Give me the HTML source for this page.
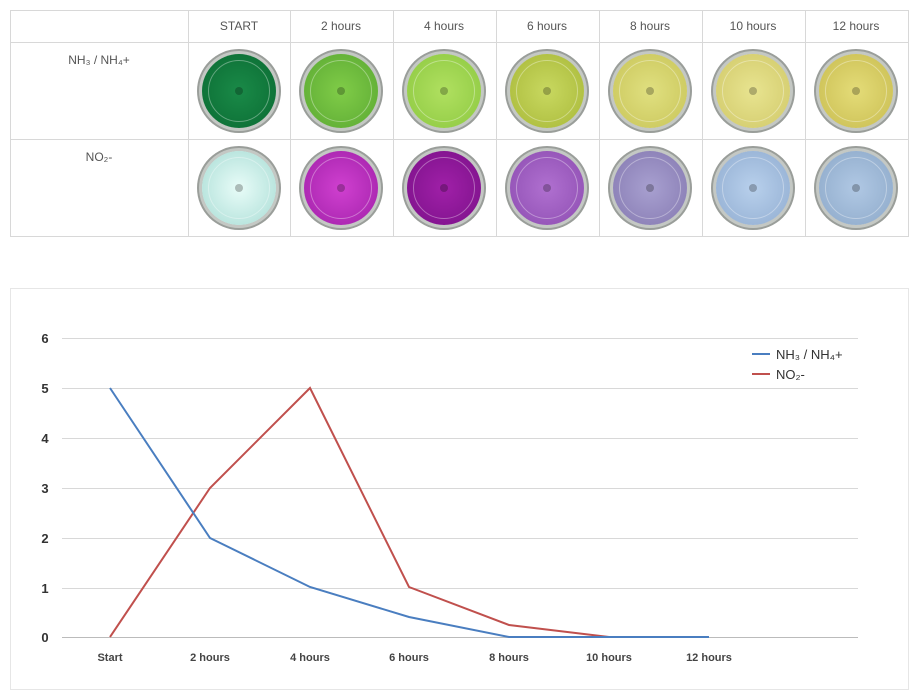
<!DOCTYPE html>
<html><head><style>
body{margin:0;width:922px;height:670px;background:#fff;font-family:"Liberation Sans","Noto Sans CJK KR",sans-serif;overflow:hidden;position:relative}
.v{position:absolute;top:10px;height:226px;width:1px;background:#d8d8d8}
.h{position:absolute;left:10px;width:899px;height:1px;background:#d8d8d8}
.t{position:absolute;font-size:12px;color:#555;text-align:center;width:102px;top:19px}
.lab{position:absolute;left:10px;width:178px;text-align:center;font-size:12px;color:#555}
.d{position:absolute;width:74px;height:74px;border-radius:50%;box-shadow:0 0 0 3px #c4c8c4,0 0 0 5px #9a9e9a;}
.d:after{content:"";position:absolute;left:33px;top:33px;width:8px;height:8px;border-radius:50%;background:rgba(0,0,0,.25)}
.d:before{content:"";position:absolute;left:6px;top:6px;right:6px;bottom:6px;border-radius:50%;border:1px solid rgba(255,255,255,.35)}
.box{position:absolute;left:10px;top:288px;width:897px;height:400px;border:1px solid #e6e6e6}
</style></head><body>
<div class="v" style="left:10px"></div><div class="v" style="left:188px"></div><div class="v" style="left:290px"></div><div class="v" style="left:393px"></div><div class="v" style="left:496px"></div><div class="v" style="left:599px"></div><div class="v" style="left:702px"></div><div class="v" style="left:805px"></div><div class="v" style="left:908px"></div>
<div class="h" style="top:10px"></div><div class="h" style="top:42px"></div><div class="h" style="top:139px"></div><div class="h" style="top:236px"></div>
<div class="t" style="left:188px">START</div><div class="t" style="left:290px">2 hours</div><div class="t" style="left:393px">4 hours</div><div class="t" style="left:496px">6 hours</div><div class="t" style="left:599px">8 hours</div><div class="t" style="left:702px">10 hours</div><div class="t" style="left:805px">12 hours</div>
<div class="lab" style="top:53px">NH₃ / NH₄+</div>
<div class="lab" style="top:150px">NO₂-</div>
<div class="d" style="left:202px;top:54px;background:radial-gradient(#1a8a48,#0a6a32)"></div>
<div class="d" style="left:304px;top:54px;background:radial-gradient(#80cc48,#5aa832)"></div>
<div class="d" style="left:407px;top:54px;background:radial-gradient(#b0e060,#8cc840)"></div>
<div class="d" style="left:510px;top:54px;background:radial-gradient(#c8d860,#a8b838)"></div>
<div class="d" style="left:613px;top:54px;background:radial-gradient(#e0e080,#c8c458)"></div>
<div class="d" style="left:716px;top:54px;background:radial-gradient(#e8e490,#d0c868)"></div>
<div class="d" style="left:819px;top:54px;background:radial-gradient(#e4dc78,#c8bc50)"></div>
<div class="d" style="left:202px;top:151px;background:radial-gradient(#e8fcf8,#a8dcd4)"></div>
<div class="d" style="left:304px;top:151px;background:radial-gradient(#d040d0,#a020a8)"></div>
<div class="d" style="left:407px;top:151px;background:radial-gradient(#a020a8,#7a1088)"></div>
<div class="d" style="left:510px;top:151px;background:radial-gradient(#b070d0,#8c4cb0)"></div>
<div class="d" style="left:613px;top:151px;background:radial-gradient(#a8a0d0,#8478b0)"></div>
<div class="d" style="left:716px;top:151px;background:radial-gradient(#b8d0ec,#90acd0)"></div>
<div class="d" style="left:819px;top:151px;background:radial-gradient(#b0c8e4,#8ca8c8)"></div>
<div class="box"></div>
<svg width="922" height="670" style="position:absolute;left:0;top:0">
<g stroke="#d8d8d8" stroke-width="1">
<line x1="62" x2="858" y1="338.5" y2="338.5"/><line x1="62" x2="858" y1="388.5" y2="388.5"/><line x1="62" x2="858" y1="438.5" y2="438.5"/><line x1="62" x2="858" y1="488.5" y2="488.5"/><line x1="62" x2="858" y1="538.5" y2="538.5"/><line x1="62" x2="858" y1="588.5" y2="588.5"/><line x1="62" x2="858" y1="637.5" y2="637.5" stroke="#bbb"/>
</g>
<g font-size="13" font-weight="bold" fill="#333" text-anchor="middle">
<text x="45" y="343">6</text><text x="45" y="393">5</text><text x="45" y="443">4</text><text x="45" y="493">3</text><text x="45" y="543">2</text><text x="45" y="593">1</text><text x="45" y="642">0</text>
</g>
<g font-size="11" font-weight="bold" fill="#444" text-anchor="middle">
<text x="110" y="661">Start</text><text x="210" y="661">2 hours</text><text x="310" y="661">4 hours</text><text x="409" y="661">6 hours</text><text x="509" y="661">8 hours</text><text x="609" y="661">10 hours</text><text x="709" y="661">12 hours</text>
</g>
<polyline fill="none" stroke="#c0504d" stroke-width="2" points="110,637 210,488 310,388 409,587 509,625 609,637 709,637"/>
<polyline fill="none" stroke="#4a7ec0" stroke-width="2" points="110,388 210,538 310,587 409,617 509,637 609,637 709,637"/>
<line x1="752" x2="770" y1="354" y2="354" stroke="#4a7ec0" stroke-width="2"/>
<line x1="752" x2="770" y1="374" y2="374" stroke="#c0504d" stroke-width="2"/>
<g font-size="13" fill="#333"><text x="776" y="359">NH₃ / NH₄+</text><text x="776" y="379">NO₂-</text></g>
</svg>
</body></html>
